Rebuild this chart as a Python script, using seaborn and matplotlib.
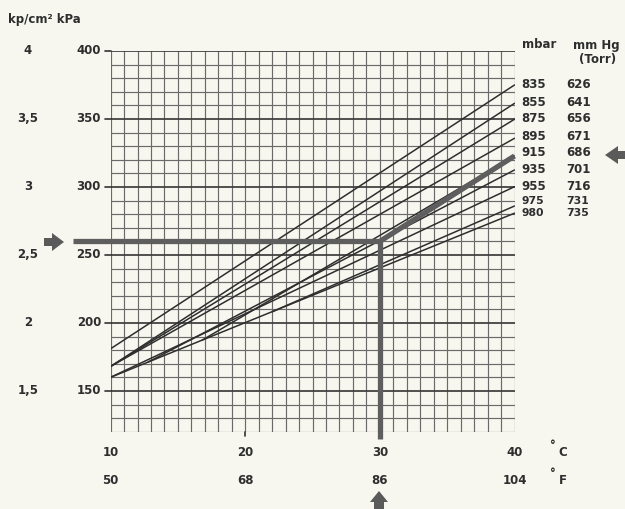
import matplotlib
matplotlib.use("Agg")
import matplotlib.pyplot as plt
import seaborn as sns
import numpy as np
import pandas as pd
from matplotlib.patches import Polygon

sns.set_theme(style="white")
plt.rcParams['font.family'] = ['DejaVu Sans']

# ---- data ----
mbar = [835, 855, 875, 895, 915, 935, 955, 975, 980]
mmhg = [626, 641, 656, 671, 686, 701, 716, 731, 735]
start_c = [10, 10, 10, 10, 16.8, 12.8, 10, 22, 10]
start_kpa = [181, 168, 168, 168, 187.3, 171.3, 160, 208.2, 160]
end_c = [40, 40, 40, 40, 40, 40, 40, 40, 40]
end_kpa = [375, 361.5, 349.8, 335.8, 322.8, 312.5, 300.2, 286, 280.7]
celsius_ticks = [10, 20, 30, 40]
fahrenheit_labels = ["50", "68", "86", "104"]
kpa_ticks = [400, 350, 300, 250, 200, 150]
kpcm_labels = ["4", "3,5", "3", "2,5", "2", "1,5"]
path_c = [7.2, 30, 30, 30, 40]
path_kpa = [260, 260, 114.5, 260, 322.8]

rows = []
for i, m in enumerate(mbar):
    rows.append({"mbar": m, "C": start_c[i], "kPa": start_kpa[i]})
    rows.append({"mbar": m, "C": end_c[i], "kPa": end_kpa[i]})
df = pd.DataFrame(rows)

W, H = 625, 509
fig = plt.figure(figsize=(W / 100, H / 100), dpi=100)
bg = "#f7f7f0"
fig.patch.set_facecolor(bg)
x0, x1 = 110.6 / W, 514.5 / W
y0, y1 = 1 - 431.7 / H, 1 - 51 / H
ax = fig.add_axes([x0, y0, x1 - x0, y1 - y0])
ax.set_facecolor(bg)
ax.set_xlim(10, 40)
ax.set_ylim(120, 400)

grid_c = "#6a6a6a"
for c in np.arange(10, 41, 1):
    ax.axvline(c, color=grid_c, lw=0.85, zorder=1)
for k in np.arange(120, 401, 10):
    major = (k % 50 == 0)
    ax.axhline(k, color="#3c3c3c" if major else grid_c, lw=1.25 if major else 0.85, zorder=1)

sns.lineplot(data=df, x="C", y="kPa", units="mbar", estimator=None,
             color="#2e2e2e", lw=1.1, ax=ax, legend=False, zorder=3)

thick = "#5e5e5e"
ax.plot(path_c[:3], path_kpa[:3], color=thick, lw=3.8, solid_capstyle="butt",
        clip_on=False, zorder=5)
ax.plot(path_c[3:], path_kpa[3:], color=thick, lw=3.8, solid_capstyle="butt",
        clip_on=False, zorder=5)

for s in ax.spines.values():
    s.set_visible(False)
ax.set_xticks([])
ax.set_yticks([])
ax.set_xlabel("")
ax.set_ylabel("")

# tick marks outside the grid
for k in kpa_ticks:
    ax.plot([9.55, 10], [k, k], color="#333333", lw=1.2, clip_on=False)
for c in [20, 30]:
    ax.plot([c, c], [120, 117], color="#333333", lw=1.2, clip_on=False)

tf = dict(fontsize=8.5, fontweight="bold", color="#2e2e2e")
fig.text(8 / W, 1 - 20 / H, "kp/cm² kPa", ha="left", va="center", **tf)
for k, lab in zip(kpa_ticks, kpcm_labels):
    yy = ax.transData.transform((10, k))[1] / H
    fig.text(28 / W, yy, lab, ha="center", va="center", **tf)
    fig.text(101 / W, yy, str(k), ha="right", va="center", **tf)

for c, lab in zip(celsius_ticks, fahrenheit_labels):
    xx = ax.transData.transform((c, 120))[0] / W
    fig.text(xx, 1 - 452 / H, str(c), ha="center", va="center", **tf)
    fig.text(xx, 1 - 481 / H, lab, ha="center", va="center", **tf)
fig.text(553 / W, 1 - 445 / H, "°", ha="center", va="center", **tf)
fig.text(563 / W, 1 - 452 / H, "C", ha="center", va="center", **tf)
fig.text(553 / W, 1 - 473 / H, "°", ha="center", va="center", **tf)
fig.text(563 / W, 1 - 481 / H, "F", ha="center", va="center", **tf)

fig.text(522 / W, 1 - 45 / H, "mbar", ha="left", va="center", **tf)
fig.text(573 / W, 1 - 45 / H, "mm Hg", ha="left", va="center", **tf)
fig.text(579 / W, 1 - 60 / H, "(Torr)", ha="left", va="center", **tf)
label_y = [85, 102, 119, 136, 153, 170, 186, 201.5, 213]
label_fs = [8.5, 8.5, 8.5, 8.5, 8.5, 8.5, 8.5, 7.8, 7.8]
tf2 = dict(fontweight="bold", color="#2e2e2e")
for m, h, yy, fs in zip(mbar, mmhg, label_y, label_fs):
    fig.text(521 / W, 1 - yy / H, str(m), ha="left", va="center", fontsize=fs, **tf2)
    fig.text(566 / W, 1 - yy / H, str(h), ha="left", va="center", fontsize=fs, **tf2)

# arrows (pixel coords)
def arrow(points):
    pts = [(px / W, 1 - py / H) for px, py in points]
    fig.patches.append(Polygon(pts, closed=True, transform=fig.transFigure,
                               facecolor="#5a5a5a", edgecolor="none"))

arrow([(44, 238), (52, 238), (52, 233), (64, 242), (52, 251), (52, 246), (44, 246)])
arrow([(625, 151), (618, 151), (618, 146), (605, 155), (618, 164), (618, 159), (625, 159)])
arrow([(374, 509), (374, 502), (370, 502), (379, 491), (388, 502), (384, 502), (384, 509)])

fig.savefig("out.png", dpi=100, facecolor=bg)
